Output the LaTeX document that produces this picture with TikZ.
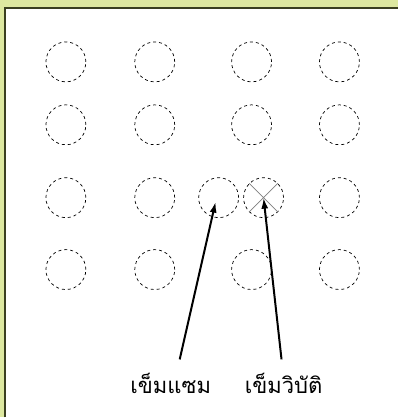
\documentclass[tikz,border=0pt]{standalone}
\usepackage{fontspec}
\newfontfamily\thaifont[Script=Thai]{Loma}
\usetikzlibrary{arrows.meta,positioning}
\definecolor{framebg}{HTML}{DDE8A0}
\definecolor{frameline}{HTML}{3A3F20}

\begin{document}
\begin{tikzpicture}[x=1pt,y=-1pt,
  hole/.style={circle,draw,dash pattern=on 3pt off 3pt,minimum size=40pt,inner sep=0pt,line width=0.7pt},
  arrow/.style={-{Latex[length=11pt,width=7pt]},line width=2pt},
  lbl/.style={font=\thaifont\fontsize{22}{26}\selectfont,inner sep=0pt,anchor=base}
]
% frame
\fill[framebg] (0,0) rectangle (399,418);
\fill[white] (5,8) rectangle (399,418);
\draw[frameline,line width=1.4pt] (5,418) -- (5,8) -- (399,8);
% grid of holes
\foreach \r/\y in {1/62,2/125,4/270}
  \foreach \c/\x in {1/66,2/155,3/252,4/340}
    \node[hole] (h\r\c) at (\x,\y) {};
\foreach \c/\x in {1/66,2/155,3/219,4/264,5/340}
  \node[hole] (h3\c) at (\x,198) {};
% failed pin
\draw[gray,line width=0.7pt] (h34.north west) -- (h34.south east)
  (h34.north east) -- (h34.south west);
% labels
\node[lbl] (sam) at (171,394) {เข็มแซม};
\node[lbl] (fail) at (284,394) {เข็มวิบัติ};
\coordinate (samtail) at (180,360);
\coordinate (failtail) at (282,360);
\draw[arrow] (samtail) -- ([shift={(-3,4)}]h33.center);
\draw[arrow] (failtail) -- (h34.center);
\end{tikzpicture}
\end{document}
